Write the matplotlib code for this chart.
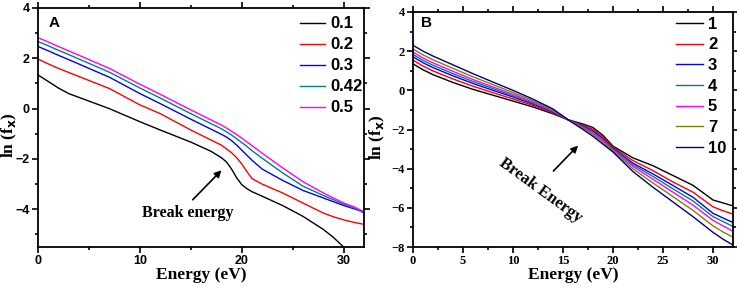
import matplotlib
matplotlib.use("Agg")
import matplotlib.pyplot as plt
from matplotlib.ticker import MultipleLocator

# ---------------- Panel A data ----------------
energy_a = [0, 1, 2, 3, 5, 7, 10, 12, 15, 17, 18, 18.5, 19, 19.5, 20, 20.5, 21, 22, 24, 26, 28, 29, 30, 31, 32]
a_01 = [1.34, 1.08, 0.82, 0.60, 0.30, 0.00, -0.52, -0.85, -1.33, -1.70, -1.95, -2.12, -2.40, -2.75, -3.02, -3.18, -3.30, -3.48, -3.85, -4.28, -4.80, -5.12, -5.50, -5.85, -6.20]
a_02 = [1.97, 1.78, 1.60, 1.44, 1.12, 0.80, 0.15, -0.20, -0.85, -1.25, -1.45, -1.60, -1.75, -1.95, -2.20, -2.50, -2.78, -3.00, -3.35, -3.75, -4.15, -4.30, -4.42, -4.52, -4.60]
a_03 = [2.47, 2.30, 2.12, 1.95, 1.60, 1.25, 0.60, 0.20, -0.42, -0.82, -1.02, -1.13, -1.27, -1.45, -1.65, -1.85, -2.05, -2.40, -2.85, -3.25, -3.55, -3.70, -3.85, -3.98, -4.10]
a_042 = [2.67, 2.50, 2.32, 2.15, 1.80, 1.45, 0.82, 0.42, -0.20, -0.60, -0.80, -0.92, -1.05, -1.20, -1.35, -1.50, -1.67, -1.97, -2.55, -3.08, -3.45, -3.62, -3.80, -3.95, -4.15]
a_05 = [2.82, 2.65, 2.47, 2.30, 1.95, 1.60, 0.97, 0.57, -0.05, -0.45, -0.65, -0.77, -0.90, -1.03, -1.17, -1.32, -1.47, -1.77, -2.35, -2.90, -3.35, -3.55, -3.75, -3.90, -4.10]
labels_a = ["0.1", "0.2", "0.3", "0.42", "0.5"]

# ---------------- Panel B data ----------------
energy_b = [0, 1, 2, 4, 6, 8, 10, 12, 14, 15.5, 17, 18, 19, 20, 21, 22, 24, 26, 28, 30, 31, 32]
b_1 = [1.35, 1.05, 0.80, 0.40, 0.05, -0.25, -0.55, -0.85, -1.20, -1.50, -1.72, -1.90, -2.30, -2.85, -3.15, -3.45, -3.85, -4.35, -4.85, -5.60, -5.75, -5.90]
b_2 = [1.54, 1.24, 0.99, 0.58, 0.21, -0.12, -0.44, -0.77, -1.15, -1.50, -1.78, -1.99, -2.39, -2.91, -3.25, -3.59, -4.10, -4.68, -5.20, -5.95, -6.15, -6.32]
b_3 = [1.71, 1.41, 1.16, 0.74, 0.35, 0.00, -0.34, -0.70, -1.10, -1.50, -1.83, -2.07, -2.47, -2.96, -3.34, -3.72, -4.27, -4.86, -5.46, -6.28, -6.52, -6.75]
b_4 = [1.83, 1.53, 1.28, 0.85, 0.45, 0.09, -0.28, -0.65, -1.08, -1.50, -1.86, -2.13, -2.53, -3.00, -3.40, -3.80, -4.40, -5.03, -5.65, -6.45, -6.70, -6.95]
b_5 = [1.95, 1.65, 1.40, 0.97, 0.55, 0.17, -0.20, -0.60, -1.04, -1.50, -1.90, -2.18, -2.58, -3.04, -3.47, -3.89, -4.54, -5.20, -5.86, -6.64, -6.92, -7.20]
b_7 = [2.11, 1.81, 1.56, 1.12, 0.69, 0.29, -0.11, -0.53, -1.00, -1.50, -1.94, -2.26, -2.66, -3.09, -3.55, -4.01, -4.73, -5.43, -6.13, -6.92, -7.23, -7.50]
b_10 = [2.30, 2.00, 1.75, 1.30, 0.85, 0.42, 0.00, -0.45, -0.95, -1.50, -2.00, -2.35, -2.75, -3.15, -3.65, -4.15, -4.95, -5.70, -6.45, -7.25, -7.60, -7.90]
labels_b = ["1", "2", "3", "4", "5", "7", "10"]

colors_a = ["#000000", "#ff0000", "#0000ff", "#008080", "#ff00ff"]
colors_b = ["#000000", "#ff0000", "#0000ff", "#008080", "#ff00ff", "#808000", "#000080"]

W, H = 737, 289
fig = plt.figure(figsize=(W / 100, H / 100), dpi=100)

axA = fig.add_axes([38 / W, 1 - 247 / H, (364 - 38) / W, (247 - 8) / H])
axB = fig.add_axes([413 / W, 1 - 247 / H, (733 - 413) / W, (247 - 12) / H])

serif = "Liberation Serif"
sans = "Liberation Sans"


def style(ax, tickfont, ylab_x, ylab_y):
    for s in ax.spines.values():
        s.set_linewidth(1.3)
    ax.tick_params(which="both", direction="out", top=True, right=True,
                   labeltop=False, labelright=False, width=1.2)
    ax.tick_params(which="major", length=4, pad=2)
    ax.tick_params(which="minor", length=2.5)
    for lab in ax.get_xticklabels() + ax.get_yticklabels():
        lab.set_fontfamily(tickfont)
        lab.set_fontweight("bold")
        lab.set_fontsize(9)
    ax.set_xlabel("Energy (eV)", fontfamily=serif, fontweight="bold", fontsize=12.5, labelpad=0)
    ax.set_ylabel(r"ln (f$_\mathbf{x}$)", fontfamily=serif, fontweight="bold", fontsize=12.5)
    ax.yaxis.set_label_coords(ylab_x, ylab_y)


# Panel A
for y, c, l in zip([a_01, a_02, a_03, a_042, a_05], colors_a, labels_a):
    axA.plot(energy_a, y, color=c, lw=1.0, label=l)
axA.set_xlim(0, 32)
axA.set_ylim(-5.5, 4)
axA.xaxis.set_major_locator(MultipleLocator(10))
axA.xaxis.set_minor_locator(MultipleLocator(5))
axA.yaxis.set_major_locator(MultipleLocator(2))
axA.yaxis.set_minor_locator(MultipleLocator(1))
style(axA, sans, -0.058, 0.47)
axA.text(1.6, 3.42, "A", fontfamily=sans, fontweight="bold", fontsize=11, ha="center", va="center")
axA.annotate("", xy=(18.2, -2.37), xytext=(15.0, -3.7),
             arrowprops=dict(arrowstyle="-|>", color="black", lw=1.2, mutation_scale=10))
axA.text(10.2, -4.16, "Break energy", fontfamily=serif, fontweight="bold", fontsize=11.5,
         ha="left", va="center")
legA = axA.legend(loc="upper right", frameon=False, handlelength=1.5, handletextpad=0.3,
                  labelspacing=0.36, borderaxespad=0.1, bbox_to_anchor=(1.02, 1.0),
                  prop=dict(family=sans, weight="bold", size=12))

# Panel B
for y, c, l in zip([b_1, b_2, b_3, b_4, b_5, b_7, b_10], colors_b, labels_b):
    axB.plot(energy_b, y, color=c, lw=1.0, label=l)
axB.set_xlim(0, 32)
axB.set_ylim(-8, 4)
axB.xaxis.set_major_locator(MultipleLocator(5))
axB.xaxis.set_minor_locator(MultipleLocator(2.5))
axB.yaxis.set_major_locator(MultipleLocator(2))
axB.yaxis.set_minor_locator(MultipleLocator(1))
style(axB, serif, -0.08, 0.47)
axB.text(1.4, 3.44, "B", fontfamily=sans, fontweight="bold", fontsize=11, ha="center", va="center")
axB.annotate("", xy=(16.7, -2.72), xytext=(13.85, -4.22),
             arrowprops=dict(arrowstyle="-|>", color="black", lw=1.2, mutation_scale=10))
axB.text(12.8, -5.1, "Break Energy", fontfamily=serif, fontweight="bold", fontsize=12,
         ha="center", va="center", rotation=-36, rotation_mode="anchor")
legB = axB.legend(loc="upper right", frameon=False, handlelength=1.6, handletextpad=0.3,
                  labelspacing=0.34, borderaxespad=0.1, bbox_to_anchor=(1.005, 1.015),
                  prop=dict(family=sans, weight="bold", size=12))

fig.savefig("out.png", dpi=100)
